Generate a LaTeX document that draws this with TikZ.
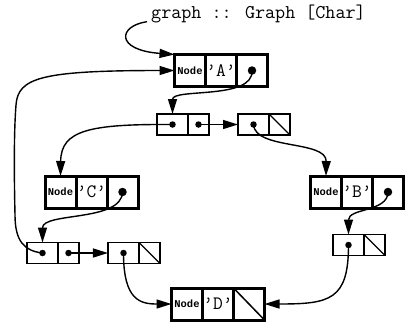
\documentclass[tikz,border=0pt]{standalone}
\usepackage{fontspec}
\newfontfamily\tagfont{Liberation Mono}
\usetikzlibrary{arrows.meta,calc}

% constructor tag and character payload of a graph node
\newcommand\nodetag{{\tagfont\bfseries\fontsize{10.5}{11}\selectfont Node}}
\newcommand\chtag[1]{{\ttfamily\fontsize{19}{21}\selectfont\textquoteright#1\textquoteright}}

\begin{document}
\begin{tikzpicture}[x=1bp,y=-1bp,
  ncell/.style={draw,line width=3bp,minimum width=31bp,minimum height=32bp,
                inner sep=0pt,outer sep=0pt},
  lcell/.style={draw,line width=1.3bp,minimum height=21bp,inner sep=0pt,outer sep=0pt},
  headcell/.style={lcell,minimum width=31bp},
  tailcell/.style={lcell,minimum width=21bp},
  nilcell/.style={tailcell,path picture={\draw[line width=1.3bp]
      (path picture bounding box.north west) -- (path picture bounding box.south east);}},
  nilnode/.style={ncell,path picture={\draw[line width=1.5bp]
      (path picture bounding box.north west) -- (path picture bounding box.south east);}},
  bigdot/.style={circle,fill,inner sep=0pt,minimum size=8.5bp},
  smalldot/.style={circle,fill,inner sep=0pt,minimum size=6.5bp},
  link/.style={line width=1.4bp,-{Triangle[length=15bp,width=9bp]}}
]
\useasboundingbox (0,0) rectangle (405,325);

% type annotation
\node[anchor=base west,inner sep=0pt,font=\ttfamily\fontsize{19.6}{21}\selectfont]
  (lbl) at (151,18) {graph :: Graph [Char]};

% graph nodes
\node[ncell,anchor=west] (A1) at (174.5,70.5) {\nodetag};
\node[ncell,anchor=west] (A2) at (A1.east) {\chtag{A}};
\node[ncell,anchor=west] (A3) at (A2.east) {};
\node[bigdot] (dA) at (A3.center) {};

\node[ncell,anchor=west] (C1) at (45,192) {\nodetag};
\node[ncell,anchor=west] (C2) at (C1.east) {\chtag{C}};
\node[ncell,anchor=west] (C3) at (C2.east) {};
\node[bigdot] (dC) at (C3.center) {};

\node[ncell,anchor=west] (B1) at (310.5,192) {\nodetag};
\node[ncell,anchor=west] (B2) at (B1.east) {\chtag{B}};
\node[ncell,anchor=west] (B3) at (B2.east) {};
\node[bigdot] (dB) at (B3.center) {};

\node[ncell,anchor=west] (D1) at (171.5,304) {\nodetag};
\node[ncell,anchor=west] (D2) at (D1.east) {\chtag{D}};
\node[nilnode,anchor=west] (D3) at (D2.east) {};

% adjacency lists (cons cells)
\node[headcell,anchor=west] (L1a) at (157,124.5) {};
\node[tailcell,anchor=west] (L1b) at (L1a.east) {};
\node[smalldot] (d1a) at (L1a.center) {};
\node[smalldot] (d1b) at (L1b.center) {};

\node[headcell,anchor=west] (L2a) at (238,124.5) {};
\node[nilcell,anchor=west] (L2b) at (L2a.east) {};
\node[smalldot] (d2a) at (L2a.center) {};

\node[headcell,anchor=west] (L3a) at (27,253) {};
\node[tailcell,anchor=west] (L3b) at (L3a.east) {};
\node[smalldot] (d3a) at (L3a.center) {};
\node[smalldot] (d3b) at (L3b.center) {};

\node[headcell,anchor=west] (L4a) at (108,253) {};
\node[nilcell,anchor=west] (L4b) at (L4a.east) {};
\node[smalldot] (d4a) at (L4a.center) {};

\node[headcell,anchor=west] (L5a) at (333,245) {};
\node[nilcell,anchor=west] (L5b) at (L5a.east) {};
\node[smalldot] (d5a) at (L5a.center) {};

% pointers
\draw[link] ($(lbl.south west)+(-4,-1)$) .. controls (118,26) and (115,50) .. (A1.north west);
\draw[link] (d3a.center) .. controls (25,251) and (15,242) .. (15,215)
  .. controls (14,170) and (14,130) .. (16,105) .. controls (18,78) and (40,70.5) .. (A1.west);
\draw[link] (dA.center) .. controls (254,100) and (172.5,88) .. (L1a.north);
\draw[link] (d1b.center) -- (L2a.west);
\draw[link] (d1a.center) .. controls (90,124) and (61,130) .. (C1.north);
\draw[link] (d2a.center) .. controls (255,150) and (326.5,140) .. (B1.north);
\draw[link] (dC.center) .. controls (122,222) and (42.5,212) .. (L3a.north);
\draw[link] (dB.center) .. controls (388,212) and (348.5,208) .. (L5a.north);
\draw[link] (d3b.center) -- (L4a.west);
\draw[link] (d4a.center) .. controls (123.5,300) and (140,304) .. (D1.west);
\draw[link] (d5a.center) .. controls (348.5,300) and (330,304) .. (D3.east);
\end{tikzpicture}
\end{document}
